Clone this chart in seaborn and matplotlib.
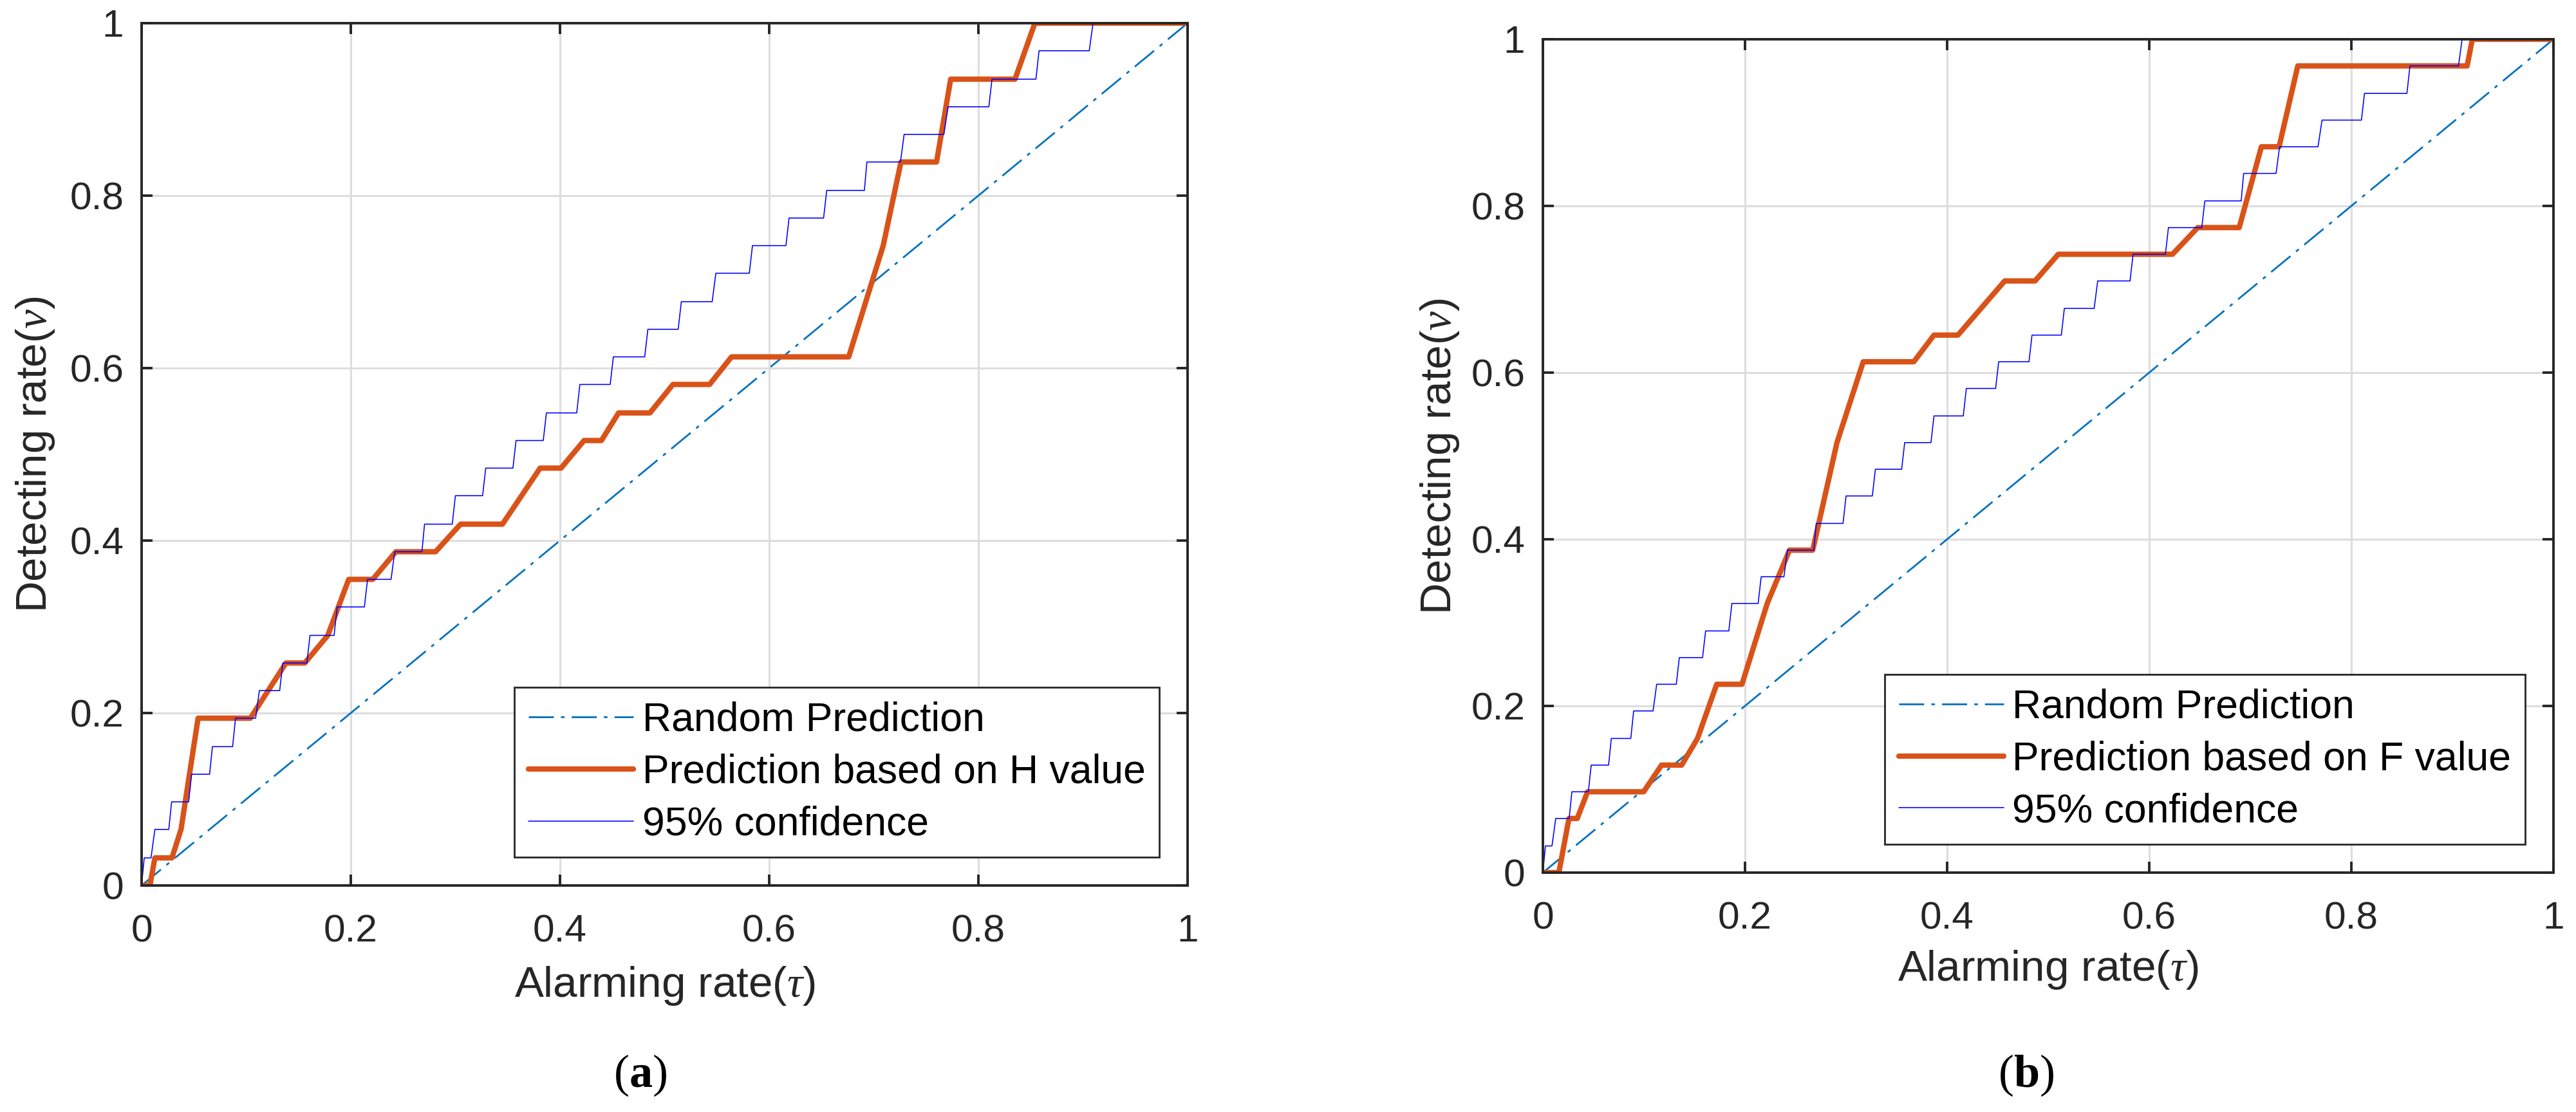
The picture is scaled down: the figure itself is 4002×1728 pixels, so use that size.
import numpy as np
import pandas as pd
import seaborn as sns
import matplotlib.pyplot as plt

# 95% confidence staircase (same in both panels): level and the x range of each flat step
conf_level = [0.0, 0.032, 0.065, 0.097, 0.129, 0.161, 0.194, 0.226, 0.258, 0.290, 0.323,
              0.355, 0.387, 0.419, 0.452, 0.484, 0.516, 0.548, 0.581, 0.613, 0.645,
              0.677, 0.710, 0.742, 0.774, 0.806, 0.839, 0.871, 0.903, 0.935, 0.968, 1.0]
conf_start = [0.0, 0.0025, 0.0127, 0.0287, 0.0478, 0.0677, 0.0898, 0.1126, 0.135, 0.161, 0.187,
              0.216, 0.242, 0.2705, 0.300, 0.329, 0.358, 0.387, 0.419, 0.451, 0.484,
              0.516, 0.549, 0.584, 0.619, 0.655, 0.6934, 0.729, 0.771, 0.813, 0.858, 0.9096]
conf_end = [0.0, 0.009, 0.026, 0.045, 0.065, 0.087, 0.109, 0.132, 0.158, 0.184, 0.213,
            0.2385, 0.268, 0.297, 0.326, 0.355, 0.384, 0.416, 0.448, 0.481, 0.513,
            0.5455, 0.581, 0.616, 0.652, 0.691, 0.7255, 0.767, 0.810, 0.855, 0.906, 1.0]

# panel (a): prediction based on H value
h_alarm = [0.0, 0.008, 0.0127, 0.029, 0.0377, 0.054, 0.104, 0.138, 0.156, 0.178, 0.198,
           0.221, 0.243, 0.281, 0.305, 0.345, 0.381, 0.401, 0.423, 0.4396, 0.456,
           0.486, 0.508, 0.543, 0.564, 0.676, 0.709, 0.726, 0.760, 0.7735, 0.835, 0.854, 1.0]
h_detect = [0.0, 0.0, 0.032, 0.032, 0.065, 0.194, 0.194, 0.258, 0.258, 0.290, 0.355,
            0.355, 0.387, 0.387, 0.419, 0.419, 0.484, 0.484, 0.516, 0.516, 0.548,
            0.548, 0.581, 0.581, 0.613, 0.613, 0.742, 0.839, 0.839, 0.935, 0.935, 1.0, 1.0]

# panel (b): prediction based on F value
f_alarm = [0.0, 0.0158, 0.0258, 0.034, 0.0442, 0.0997, 0.1174, 0.1373, 0.153, 0.172, 0.197,
           0.222, 0.244, 0.267, 0.291, 0.317, 0.367, 0.387, 0.4107, 0.457, 0.487,
           0.510, 0.623, 0.648, 0.689, 0.711, 0.7285, 0.747, 0.9146, 0.9197, 1.0]
f_detect = [0.0, 0.0, 0.065, 0.065, 0.097, 0.097, 0.129, 0.129, 0.161, 0.226, 0.226,
            0.323, 0.387, 0.387, 0.516, 0.613, 0.613, 0.645, 0.645, 0.710, 0.710,
            0.742, 0.742, 0.774, 0.774, 0.871, 0.871, 0.968, 0.968, 1.0, 1.0]

random_alarm = [0.0, 1.0]
random_detect = [0.0, 1.0]

ticks = [0, 0.2, 0.4, 0.6, 0.8, 1.0]
tick_labels = ["0", "0.2", "0.4", "0.6", "0.8", "1"]

sns.set_style("ticks")
plt.rcParams["font.family"] = ["Liberation Sans", "DejaVu Sans"]
plt.rcParams["mathtext.fontset"] = "custom"
plt.rcParams["mathtext.it"] = "Liberation Serif:italic"
plt.rcParams["mathtext.rm"] = "Liberation Serif"
plt.rcParams["mathtext.bf"] = "Liberation Serif:bold"

stair_x = np.ravel(np.column_stack([conf_start, conf_end]))
stair_y = np.repeat(conf_level, 2)
stair = pd.DataFrame({"alarm": stair_x, "detect": stair_y})

DARK = "#262626"


def draw_panel(ax, alarm, detect, pred_label, ylab_x, xlab_y):
    sns.lineplot(x=random_alarm, y=random_detect, ax=ax, color="#0072BD", lw=2.0,
                 linestyle=(0, (14, 4, 2, 4)), label="Random Prediction")
    pred = pd.DataFrame({"alarm": alarm, "detect": detect})
    sns.lineplot(data=pred, x="alarm", y="detect", ax=ax, sort=False, estimator=None,
                 color="#D95319", lw=6.0, label=pred_label)
    sns.lineplot(data=stair, x="alarm", y="detect", ax=ax, sort=False, estimator=None,
                 color="#0000FF", lw=1.15, label="95% confidence")

    ax.set_xlim(0, 1)
    ax.set_ylim(0, 1)
    ax.set_xticks(ticks)
    ax.set_xticklabels(tick_labels)
    ax.set_yticks(ticks)
    ax.set_yticklabels(tick_labels)
    ax.grid(True, color="#DDDDDD", linewidth=2.2)
    ax.set_axisbelow(True)
    for sp in ax.spines.values():
        sp.set_visible(True)
        sp.set_color(DARK)
        sp.set_linewidth(2.8)
    ax.tick_params(direction="in", length=12.2, width=2.8, color=DARK, top=True,
                   right=True, labelsize=43.5, labelcolor=DARK)
    ax.tick_params(axis="x", pad=32)
    ax.tick_params(axis="y", pad=20)

    ax.set_xlabel(r"Alarming rate($\tau$)", fontsize=48.5, color=DARK)
    ax.set_ylabel(r"Detecting rate($\nu$)", fontsize=48.5, color=DARK)
    ax.yaxis.set_label_coords(ylab_x, 0.5)
    ax.xaxis.set_label_coords(0.5, xlab_y)

    leg = ax.legend(loc="lower right", fontsize=45, frameon=True, fancybox=False,
                    borderaxespad=0.7, borderpad=0.35, handlelength=2.6,
                    handletextpad=0.22, labelspacing=0.35, framealpha=1,
                    labelcolor="black")
    leg.get_frame().set_edgecolor(DARK)
    leg.get_frame().set_linewidth(2.0)


fig = plt.figure(figsize=(40.02, 17.28), dpi=100)
ax_a = fig.add_axes([0.05497, 0.2037, 0.40605, 0.7755])
ax_b = fig.add_axes([0.59895, 0.21528, 0.39230, 0.74942])

draw_panel(ax_a, h_alarm, h_detect, "Prediction based on H value", -0.0812, -0.0918)
draw_panel(ax_b, f_alarm, f_detect, "Prediction based on F value", -0.0806, -0.0911)

fig.text(0.2486, 0.033, r"($\mathbf{a}$)", fontsize=52, family="Liberation Serif",
         ha="center", va="center", color="black")
fig.text(0.7864, 0.033, r"($\mathbf{b}$)", fontsize=52, family="Liberation Serif",
         ha="center", va="center", color="black")

fig.savefig("out.png", dpi=100)
plt.close(fig)
